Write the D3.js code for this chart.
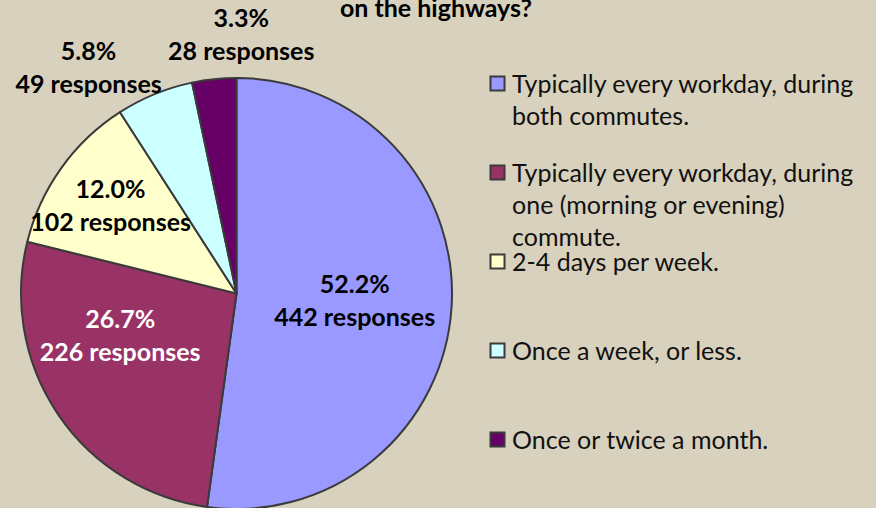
<!DOCTYPE html>
<html lang="en">
<head>
  <meta charset="UTF-8" />
  <title>Highway usage</title>
  <script src="https://d3js.org/d3.v7.min.js"></script>
  <style>
    body { margin: 0; background: #d8d1bd; }
    svg { display: block; font-family: Lato, "Open Sans", sans-serif; }
    .lbl { font-weight: bold; font-size: 25px; }
    .legend text { font-size: 25px; fill: #111; }
    .title { font-weight: bold; font-size: 25px; }
  </style>
</head>
<body>
  <svg id="chart" width="876" height="508"></svg>

  <script>
    // data
    const categories = [
      "Typically every workday, during both commutes.",
      "Typically every workday, during one (morning or evening) commute.",
      "2-4 days per week.",
      "Once a week, or less.",
      "Once or twice a month."
    ];
    const responses = [442, 226, 102, 49, 28];
    const colors = ["#9999ff", "#993366", "#ffffcc", "#ccffff", "#660066"];
    const legendLines = [
      ["Typically every workday, during", "both commutes."],
      ["Typically every workday, during", "one (morning or evening)", "commute."],
      ["2-4 days per week."],
      ["Once a week, or less."],
      ["Once or twice a month."]
    ];

    // label placement: radius as share of pie radius, angle nudge in degrees
    const labelLayout = [
      { r: 0.55,  da: 0,   fill: "#000" },
      { r: 0.575, da: 14,  fill: "#fff" },
      { r: 0.71,  da: -1,  fill: "#000" },
      { r: 1.25,  da: -11, fill: "#000" },
      { r: 1.2,   da: 7,   fill: "#000" }
    ];

    const svg = d3.select("#chart");
    const cx = 236.5, cy = 293.5, radius = 215.5;
    const total = d3.sum(responses);
    const pct = d3.format(".1%");

    // title, only its last line is in view
    svg.append("text")
      .attr("class", "title")
      .attr("x", 436)
      .attr("y", 17)
      .attr("text-anchor", "middle")
      .text("on the highways?");

    const pie = d3.pie().sort(null).value(d => d);
    const arcs = pie(responses);
    const arc = d3.arc().innerRadius(0).outerRadius(radius);

    const g = svg.append("g").attr("transform", `translate(${cx},${cy})`);

    g.selectAll("path")
      .data(arcs)
      .join("path")
      .attr("d", arc)
      .attr("fill", (d, i) => colors[i])
      .attr("stroke", "#3a3a3a")
      .attr("stroke-width", 2)
      .attr("stroke-linejoin", "round");

    arcs.forEach((d, i) => {
      const lay = labelLayout[i];
      const a = (d.startAngle + d.endAngle) / 2 + lay.da * Math.PI / 180;
      const r = lay.r * radius;
      const x = r * Math.sin(a);
      const y = -r * Math.cos(a);
      const t = g.append("text")
        .attr("class", "lbl")
        .attr("text-anchor", "middle")
        .attr("fill", lay.fill);
      t.append("tspan").attr("x", x).attr("y", y - 17).attr("dy", "0.35em")
        .text(pct(d.value / total));
      t.append("tspan").attr("x", x).attr("y", y + 16).attr("dy", "0.35em")
        .text(d.value + " responses");
    });

    // legend
    const legend = svg.append("g").attr("class", "legend");
    const legY = d3.scalePoint().domain(d3.range(categories.length)).range([84, 440]);

    categories.forEach((c, i) => {
      const y0 = legY(i);
      legend.append("rect")
        .attr("x", 490.5)
        .attr("y", y0 - 7.5)
        .attr("width", 14)
        .attr("height", 14)
        .attr("fill", colors[i])
        .attr("stroke", "#3a3a3a")
        .attr("stroke-width", 2);
      legendLines[i].forEach((line, j) => {
        legend.append("text")
          .attr("x", 512)
          .attr("y", y0 + j * 32)
          .attr("dy", "0.35em")
          .text(line);
      });
    });
  </script>
</body>
</html>
